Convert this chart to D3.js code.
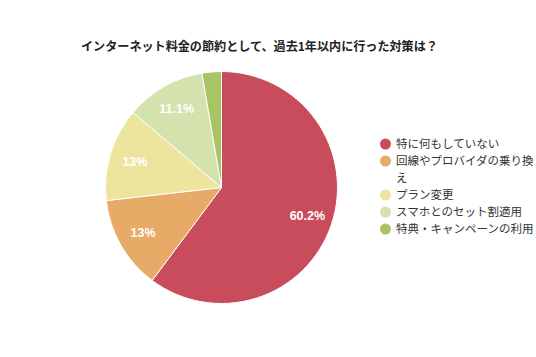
<!DOCTYPE html>
<html><head><meta charset="utf-8">
<script src="https://cdn.jsdelivr.net/npm/d3@7"></script>
<style>body{margin:0;background:#fff;} svg{display:block;font-family:"Noto Sans CJK JP","Noto Sans",sans-serif;}</style>
</head><body>
<svg id="c" width="536" height="357"></svg>
<script>
const categories = ["特に何もしていない","回線やプロバイダの乗り換え","プラン変更","スマホとのセット割適用","特典・キャンペーンの利用"];
const values = [60.2, 13, 13, 11.1, 2.7];
const labels = ["60.2%","13%","13%","11.1%",""];
const colors = ["#c84c5c","#e8ab67","#ede59d","#d4e2ae","#a8c463"];

const svg = d3.select("#c");
svg.append("text").attr("x",81).attr("y",51).attr("font-size",12.1).attr("font-weight","bold").attr("fill","#222")
  .text("インターネット料金の節約として、過去1年以内に行った対策は？");

const cx=221.5, cy=187.5, r=116;
const pie = d3.pie().sort(null).value(d=>d)(values);
const arc = d3.arc().innerRadius(0).outerRadius(r);
const lab = d3.arc().innerRadius(r*0.78).outerRadius(r*0.78);
const g = svg.append("g").attr("transform",`translate(${cx},${cy})`);
g.selectAll("path").data(pie).join("path").attr("d",arc)
  .attr("fill",(d,i)=>colors[i]).attr("stroke","#fff").attr("stroke-width",1);
g.selectAll("text.l").data(pie).join("text").attr("class","l")
  .attr("transform",d=>`translate(${lab.centroid(d)})`)
  .attr("text-anchor","middle").attr("dy","0.35em")
  .attr("font-size",12.5).attr("font-weight","bold").attr("fill","#fff")
  .attr("font-family","'Liberation Sans', Arial, sans-serif")
  .text((d,i)=>labels[i]);

const legendLines = [["特に何もしていない"],["回線やプロバイダの乗り換","え"],["プラン変更"],["スマホとのセット割適用"],["特典・キャンペーンの利用"]];
let y = 144;
const lg = svg.append("g");
legendLines.forEach((lines,i)=>{
  lg.append("circle").attr("cx",385.5).attr("cy",y).attr("r",5.5).attr("fill",colors[i]);
  lines.forEach((t,j)=>{
    lg.append("text").attr("x",396).attr("y",y+j*17).attr("dy","0.36em").attr("font-size",11.5).attr("fill","#333").text(t);
  });
  y += 17*lines.length;
});
</script>
</body></html>
